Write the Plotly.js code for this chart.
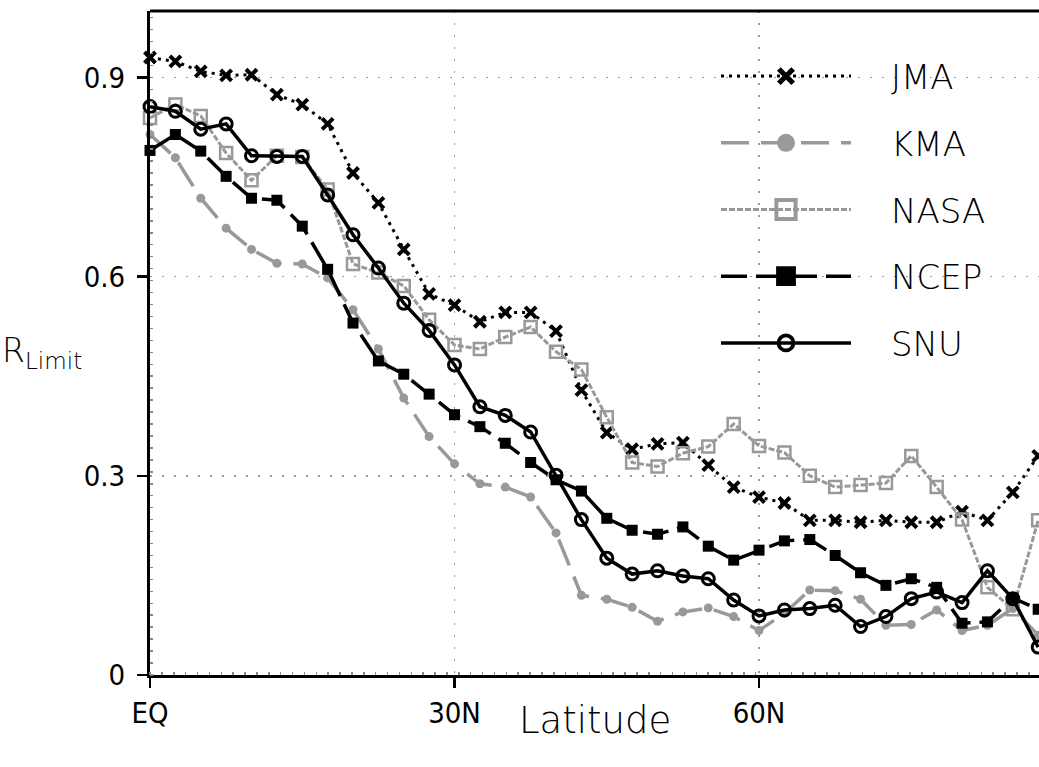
<!DOCTYPE html>
<html>
<head>
<meta charset="utf-8">
<script src="https://cdn.plot.ly/plotly-3.0.1.min.js"></script>
<style>
html,body{margin:0;padding:0;background:#fff;}
#chart{width:1039px;height:767px;}
</style>
</head>
<body>
<div id="chart"></div>
<script>
// Latitude (degrees north)
const lat = [0,2.5,5,7.5,10,12.5,15,17.5,20,22.5,25,27.5,30,32.5,35,37.5,40,42.5,45,47.5,50,52.5,55,57.5,60,62.5,65,67.5,70,72.5,75,77.5,80,82.5,85,87.5];

const seriesNames = ["JMA","KMA","NASA","NCEP","SNU"];

const jma  = [0.930,0.924,0.909,0.903,0.904,0.874,0.859,0.830,0.756,0.711,0.641,0.574,0.557,0.532,0.546,0.546,0.518,0.429,0.365,0.340,0.348,0.350,0.316,0.283,0.268,0.259,0.233,0.233,0.230,0.233,0.230,0.230,0.246,0.233,0.275,0.330];
const kma  = [0.814,0.779,0.718,0.673,0.641,0.620,0.619,0.598,0.550,0.491,0.417,0.359,0.318,0.288,0.283,0.268,0.214,0.120,0.114,0.102,0.081,0.095,0.101,0.088,0.067,0.093,0.128,0.127,0.114,0.075,0.076,0.098,0.067,0.075,0.100,0.060];
const nasa = [0.839,0.859,0.842,0.786,0.745,0.782,0.780,0.731,0.619,0.606,0.586,0.535,0.497,0.491,0.509,0.524,0.487,0.460,0.388,0.320,0.314,0.334,0.344,0.378,0.345,0.335,0.300,0.283,0.286,0.289,0.330,0.283,0.234,0.132,0.099,0.233];
const ncep = [0.790,0.814,0.789,0.751,0.718,0.715,0.676,0.611,0.530,0.473,0.453,0.423,0.392,0.374,0.349,0.320,0.294,0.277,0.236,0.218,0.212,0.223,0.194,0.173,0.188,0.202,0.204,0.180,0.154,0.135,0.145,0.132,0.078,0.080,0.116,0.099];
const snu  = [0.856,0.849,0.822,0.830,0.782,0.781,0.781,0.723,0.663,0.613,0.560,0.519,0.467,0.404,0.391,0.366,0.301,0.234,0.176,0.152,0.157,0.149,0.145,0.113,0.089,0.098,0.100,0.105,0.073,0.088,0.115,0.125,0.109,0.157,0.115,0.042];

const xTickVals = [0,30,60];
const xTickText = ["EQ","30N","60N"];
const yTickVals = [0,0.3,0.6,0.9];
const yTickText = ["0","0.3","0.6","0.9"];

const gray = "#999999";
const values = [jma,kma,nasa,ncep,snu];
const styles = [
  {line:{color:"#000",width:3,dash:"3px,5px"}, marker:{symbol:"x-thin",size:11,color:"#000",line:{color:"#000",width:4}}},
  {line:{color:gray,width:3.5,dash:"28px,12px"}, marker:{symbol:"circle",size:9,color:gray}},
  {line:{color:gray,width:3,dash:"6px,2px"}, marker:{symbol:"square-open",size:12,color:gray,line:{color:gray,width:2.5}}},
  {line:{color:"#000",width:3.5,dash:"26px,9px"}, marker:{symbol:"square",size:11,color:"#000"}},
  {line:{color:"#000",width:3.5}, marker:{symbol:"circle-open",size:12,color:"#000",line:{color:"#000",width:3}}}
];
const legendMarkerScale = [1.3, 2.0, 1.6, 1.8, 1.25];

const traces = seriesNames.map((n,i)=>({
  type:"scatter", mode:"lines+markers", name:n, x:lat, y:values[i],
  line:styles[i].line, marker:styles[i].marker, legendgroup:n, cliponaxis:false
}));

const tickFont = {family:"DejaVu Sans Condensed, DejaVu Sans, sans-serif", size:29, color:"#000", weight:500};
const thinFont = {family:"DejaVu Sans, sans-serif", size:34, color:"#000", weight:200};

const layout = {
  width:1039, height:767,
  margin:{l:150, r:0, t:11, b:92, pad:0},
  paper_bgcolor:"#fff", plot_bgcolor:"#fff",
  showlegend:true,
  legend:{x:(716-150)/889, xanchor:"left", y:0.945, yanchor:"top", bgcolor:"rgba(0,0,0,0)",
          font:thinFont, tracegroupgap:19.5, itemwidth:165},
  xaxis:{range:[0,87.58], tickvals:xTickVals, ticktext:xTickText, tickfont:tickFont,
         showgrid:true, gridcolor:"#999", griddash:"2px,10px", gridwidth:1.5,
         showline:true, linecolor:"#000", linewidth:3, ticks:"outside", ticklen:10, tickwidth:2.5, tickcolor:"#000",
         ticklabelstandoff:0, zeroline:false, fixedrange:true,
         minor:{dtick:1.17, ticks:"inside", ticklen:3, tickcolor:"#888", tickwidth:1.5, showgrid:false}},
  yaxis:{range:[0,1], tickvals:yTickVals, ticktext:yTickText, tickfont:tickFont,
         showgrid:true, gridcolor:"#999", griddash:"2px,10px", gridwidth:1.5,
         showline:true, linecolor:"#000", linewidth:3, ticks:"outside", ticklen:10, tickwidth:2.5, tickcolor:"#000",
         ticklabelstandoff:6, zeroline:false, fixedrange:true,
         minor:{dtick:0.018, ticks:"inside", ticklen:3, tickcolor:"#888", tickwidth:1.5, showgrid:false}},
  shapes:[{type:"line", xref:"paper", yref:"paper", x0:0, x1:1, y0:1, y1:1, line:{color:"#000", width:3}}],
  annotations:[
    {text:"Latitude", xref:"paper", yref:"paper", x:0.5, y:0, yshift:-45, xanchor:"center", yanchor:"middle",
     showarrow:false, font:{family:"DejaVu Sans, sans-serif", size:37, color:"#000", weight:200}},
    {text:"R<sub>Limit</sub>", xref:"paper", yref:"paper", x:0, xshift:-150, xanchor:"left", y:(674.7-352)/664, yanchor:"middle",
     showarrow:false, font:{family:"DejaVu Sans, sans-serif", size:33, color:"#000", weight:200}}
  ]
};

Plotly.newPlot("chart", traces, layout, {displayModeBar:false, staticPlot:true}).then(gd => {
  // lengthen legend sample lines to match the reference's long legend keys
  gd.querySelectorAll(".legend .traces").forEach((g, i) => {
    g.querySelectorAll(".legendlines path").forEach(p => p.setAttribute("d", "M5,0h130"));
    g.querySelectorAll(".legendpoints path").forEach(p =>
      p.setAttribute("transform", "translate(70,0) scale(" + legendMarkerScale[i] + ")"));
  });
});
</script>
</body>
</html>
